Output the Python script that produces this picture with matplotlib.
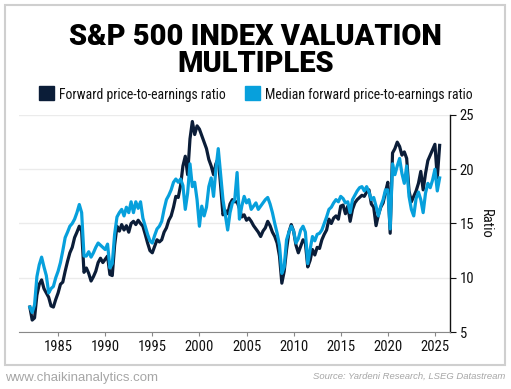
import matplotlib
matplotlib.use("Agg")
import matplotlib.pyplot as plt
from matplotlib import font_manager
from matplotlib.patches import Rectangle
import pandas as pd

# quarterly readings, 1982 Q1 .. 2025 Q3
forward_pe = [
    7.3, 6.1, 6.3, 8.4,   9.4, 9.8, 9.0, 8.6,   8.2, 7.4, 7.3, 8.0,
    8.6, 9.4, 9.6, 10.6,  11.5, 12.3, 12.8, 13.7, 14.2, 14.75, 14.3, 10.5,
    10.9, 10.4, 9.7, 10.1, 10.6, 11.4, 11.8, 11.4, 11.7, 12.0, 10.3, 10.2,
    13.0, 14.75, 14.3, 14.9, 14.4, 14.8, 14.2, 15.0, 15.2, 14.9, 15.3, 15.0,
    14.75, 14.0, 13.2, 12.5, 12.3, 12.9, 13.5, 13.3, 13.5, 14.2, 14.6, 15.3,
    15.7, 16.5, 17.5, 17.4, 18.5, 20.3, 21.2, 19.5, 22.8, 24.4, 23.2, 24.0,
    23.7, 23.1, 22.5, 21.9, 20.9, 20.3, 19.5, 20.5, 21.0, 18.5, 15.8, 16.2,
    15.9, 16.8, 17.2, 17.0, 17.0, 16.4, 15.6, 15.8, 15.3, 15.5, 15.2, 14.8,
    14.5, 14.2, 13.8, 14.3, 14.6, 15.2, 14.8, 14.2, 13.8, 13.2, 12.0, 9.5,
    10.6, 12.6, 14.2, 14.9, 14.3, 13.0, 12.3, 12.9, 13.5, 13.2, 11.0, 11.6,
    12.6, 12.1, 12.8, 12.7, 13.5, 14.0, 14.4, 15.4, 15.0, 15.5, 15.7, 15.4,
    16.6, 16.7, 15.9, 16.6, 15.2, 16.3, 16.9, 17.2, 17.4, 17.6, 17.5, 17.9,
    18.1, 16.8, 16.5, 14.8, 15.8, 16.5, 16.9, 17.9, 18.8, 14.1, 21.5, 21.9,
    22.5, 22.1, 21.3, 21.6, 21.0, 18.0, 17.0, 17.5, 18.0, 18.7, 19.8, 18.1,
    19.6, 20.8, 21.3, 21.8, 22.3, 19.2, 22.2,
]
median_pe = [
    7.3, 6.8, 7.5, 10.1,  11.2, 11.9, 11.0, 10.2, 8.6, 9.0, 9.2, 10.0,
    10.6, 11.4, 12.5, 13.7, 14.2, 14.75, 15.0, 15.4, 16.0, 16.75, 16.0, 12.0,
    12.0, 12.4, 11.9, 12.3, 12.8, 13.2, 13.0, 12.8, 12.6, 13.1, 10.9, 11.3,
    14.0, 15.6, 16.0, 16.3, 15.7, 16.5, 16.0, 17.0, 16.0, 17.0, 16.4, 17.0,
    15.5, 14.75, 14.0, 13.4, 13.2, 13.9, 14.5, 14.75, 15.2, 16.3, 17.2, 17.6,
    18.1, 18.8, 19.1, 18.8, 19.1, 18.5, 16.3, 17.8, 20.5, 18.4, 18.8, 17.2,
    14.75, 16.6, 15.7, 16.5, 18.4, 19.2, 17.5, 20.0, 21.9, 19.5, 17.2, 15.8,
    14.4, 16.0, 16.9, 17.2, 19.7, 15.4, 16.6, 17.5, 16.9, 17.2, 16.3, 16.6,
    16.9, 16.3, 16.6, 16.9, 17.2, 17.4, 16.8, 16.0, 15.0, 14.1, 13.0, 10.4,
    11.0, 13.5, 14.2, 14.75, 14.3, 13.2, 13.6, 14.4, 14.75, 14.2, 11.3, 12.6,
    13.8, 13.4, 14.0, 14.1, 14.4, 15.0, 15.6, 16.3, 16.5, 16.9, 17.2, 17.0,
    17.5, 17.3, 16.9, 17.0, 16.0, 17.2, 17.6, 18.0, 18.3, 18.4, 18.0, 18.4,
    17.9, 17.2, 17.4, 16.6, 15.7, 16.6, 17.2, 18.1, 18.1, 14.5, 20.5, 19.5,
    20.3, 21.0, 19.6, 18.7, 20.3, 17.5, 16.3, 15.7, 17.3, 17.9, 17.2, 16.0,
    17.8, 18.7, 18.3, 19.0, 20.0, 18.0, 19.2,
]
year_ticks = [1985, 1990, 1995, 2000, 2005, 2010, 2015, 2020, 2025]
ratio_ticks = [5, 10, 15, 20, 25]

dates = pd.date_range("1982-01-01", periods=len(forward_pe), freq="QS")
years = dates.year + (dates.month - 1) / 12

available = {f.name for f in font_manager.fontManager.ttflist}


def pick(*names):
    for n in names:
        if n in available:
            return n
    return "DejaVu Sans"


title_font = pick("Roboto", "Barlow Semi Condensed", "Archivo Black")
body_font = pick("Roboto Condensed", "Liberation Sans Narrow", "Liberation Sans")
base = "Liberation Sans"

DARK = "#0b1d38"
LIGHT = "#07a0dc"

fig = plt.figure(figsize=(5.11, 3.89), dpi=100)
fig.patch.set_facecolor("white")
renderer = fig.canvas.get_renderer()


def fit(t, width_px):
    # scale a text so its drawn width matches the reference
    w = t.get_window_extent(renderer).width
    t.set_fontsize(t.get_fontsize() * width_px / w)


# outer frame
fig.patches.append(Rectangle((5 / 511, 1 - 365 / 389), 500 / 511, 360 / 389,
                             transform=fig.transFigure, fill=False,
                             edgecolor="#cfcfcf", linewidth=1.5))

t1 = fig.text(0.5, 1 - 45 / 389, "S&P 500 INDEX VALUATION", ha="center", va="baseline",
              fontsize=22, fontweight=900, family=title_font, color="black")
fit(t1, 372)
t2 = fig.text(0.5, 1 - 72 / 389, "MULTIPLES", ha="center", va="baseline",
              fontsize=t1.get_fontsize(), fontweight=900, family=title_font, color="black")

# legend
for x0, col, label, w in [(39, DARK, "Forward price-to-earnings ratio", 166),
                          (245, LIGHT, "Median forward price-to-earnings ratio", 208)]:
    fig.patches.append(Rectangle((x0 / 511, 1 - 100 / 389), 15 / 511, 14 / 389,
                                 transform=fig.transFigure, color=col))
    lt = fig.text((x0 + 20) / 511, 1 - 98.5 / 389, label, ha="left", va="baseline",
                  fontsize=10, family=body_font, color="#111111")
    fit(lt, w)

ax = fig.add_axes([19 / 511, 57 / 389, 431 / 511, 217 / 389])
ax.plot(years, forward_pe, color=DARK, linewidth=2.3, zorder=2)
ax.plot(years, median_pe, color=LIGHT, linewidth=2.3, zorder=3)

ax.set_xlim(1980.85, 2026.6)
ax.set_ylim(5, 25)
ax.set_xticks(year_ticks)
ax.set_yticks(ratio_ticks)
ax.yaxis.tick_right()
ax.yaxis.set_label_position("right")
ax.set_ylabel("Ratio", rotation=270, labelpad=13, fontsize=10.5, family=body_font, color="#111111")

for s in ["top", "left"]:
    ax.spines[s].set_visible(False)
ax.spines["bottom"].set_color("#888888")
ax.spines["right"].set_color("#111111")
ax.spines["right"].set_linewidth(1.0)
ax.tick_params(axis="x", length=3, color="#888888", labelsize=10.5, labelcolor="#111111", pad=3)
ax.tick_params(axis="y", length=4, color="#111111", labelsize=10.5, labelcolor="#111111", pad=3)
for lab in ax.get_xticklabels() + ax.get_yticklabels():
    lab.set_family(body_font)
ax.grid(axis="y", color="#ebebeb", linewidth=1.0, zorder=0)
ax.set_axisbelow(True)

fig.text(5 / 511, 1 - 381 / 389, "www.chaikinanalytics.com", ha="left", va="baseline",
         fontsize=9.5, family=base, color="#a6a6a6")
fig.text(505 / 511, 1 - 379 / 389, "Source: Yardeni Research, LSEG Datastream",
         ha="right", va="baseline", fontsize=6.8, style="italic", family=base, color="#a6a6a6")

fig.savefig("out.png", dpi=100)
